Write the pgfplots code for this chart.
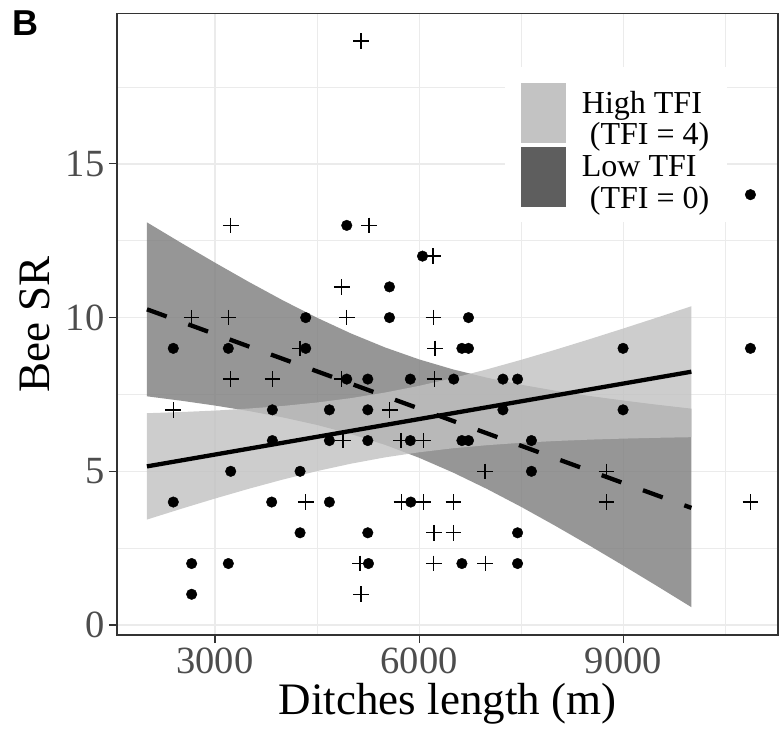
\documentclass[border=0pt]{standalone}
\usepackage{pgfplots}
\pgfplotsset{compat=1.18}
\usepackage{pgfplotstable}
\usepgfplotslibrary{fillbetween}
\usepackage{fontspec}
\setmainfont{Liberation Serif}
\newfontfamily\labfont{Liberation Sans}
\definecolor{gridc}{RGB}{235,235,235}
\definecolor{framec}{RGB}{51,51,51}
\definecolor{ticklab}{RGB}{77,77,77}
\definecolor{bandDark}{RGB}{124,124,124}
\definecolor{bandLight}{RGB}{193,193,193}
\definecolor{keyLight}{RGB}{195,195,195}
\definecolor{keyDark}{RGB}{94,94,94}

\pgfplotstableread{
x hlo hhi llo lhi
2000 3.430 6.890 7.440 13.100
2500 3.778 6.928 7.297 12.435
3000 4.114 6.976 7.139 11.787
3500 4.434 7.042 6.960 11.158
4000 4.734 7.126 6.752 10.558
4500 5.008 7.238 6.507 9.995
5000 5.249 7.381 6.212 9.483
5500 5.454 7.562 5.859 9.029
6000 5.620 7.780 5.440 8.640
6500 5.751 8.034 4.958 8.314
7000 5.851 8.319 4.422 8.043
7500 5.928 8.627 3.842 7.816
8000 5.986 8.954 3.227 7.623
8500 6.030 9.295 2.589 7.453
9000 6.064 9.646 1.932 7.304
9500 6.090 10.005 1.262 7.166
10000 6.110 10.370 0.581 7.039
}\bands

\pgfplotstableread{
x y
10868 14
4936 13
6049 12
5564 11
4333 10
5564 10
6725 10
2387 9
3196 9
4333 9
6628 9
6725 9
8996 9
10868 9
4936 8
5245 8
5870 8
6508 8
7231 8
7446 8
3843 7
4681 7
5245 7
7231 7
8996 7
3843 6
4681 6
5245 6
5870 6
6628 6
6725 6
7650 6
3231 5
4250 5
7650 5
2387 4
3833 4
4681 4
5877 4
4250 3
5245 3
7446 3
2657 2
3196 2
5255 2
6628 2
7446 2
2657 1
}\dots

\pgfplotstableread{
x y
5143 19
3231 13
5260 13
6201 12
4863 11
2657 10
3196 10
4936 10
6208 10
4250 9
6230 9
3231 8
3843 8
4860 8
6225 8
2387 7
5568 7
4880 6
5735 6
6064 6
6968 5
8750 5
4333 4
5740 4
6064 4
6505 4
8750 4
10868 4
6220 3
6505 3
5132 2
6215 2
6971 2
5143 1
}\pluses

\begin{document}
\begin{tikzpicture}
\begin{axis}[
  scale only axis,
  width=661bp, height=621.7bp,
  xmin=1560, xmax=11273,
  ymin=-0.325, ymax=19.9,
  scaled x ticks=false, scaled y ticks=false,
  xtick={3000,6000,9000},
  xticklabels={3000,6000,9000},
  ytick={0,5,10,15},
  yticklabels={0,5,10,15},
  minor xtick={4500,7500,10500},
  minor ytick={2.5,7.5,12.5,17.5},
  grid=both,
  major grid style={gridc, line width=1.2bp},
  minor grid style={gridc, line width=0.6bp},
  tick align=outside,
  xtick pos=left, ytick pos=left,
  major tick length=8bp,
  minor tick length=0bp,
  tick style={framec, line width=1.1bp},
  axis line style={framec, line width=1.4bp},
  ticklabel style={font=\fontsize{38.5bp}{46bp}\selectfont, text=ticklab},
  xticklabel style={anchor=base, yshift=-30bp},
  yticklabel style={anchor=east, xshift=-1bp},
  xlabel={Ditches length (m)},
  ylabel={Bee SR},
  label style={font=\fontsize{45bp}{50bp}\selectfont, text=black},
  xlabel style={at={(axis description cs:0.5,0)}, anchor=base, yshift=-79bp},
  ylabel style={at={([xshift=-67bp]axis description cs:0,0.5)}, anchor=base},
  legend style={at={(0.587,0.938)}, anchor=north west, yshift=-15bp, draw=none, fill=white,
    inner xsep=16bp, inner ysep=16bp, row sep=4bp, column sep=15bp,
    font=\fontsize{32bp}{31bp}\selectfont,
    cells={anchor=west}},
  legend image code/.code={\fill[#1] (0bp,-29.65bp) rectangle (43.3bp,29.65bp);},
]
\coordinate (O) at (rel axis cs:0,0);
\addlegendimage{keyLight}
\addlegendentry{{\raisebox{4.5bp}{\begin{tabular}{@{}l@{}}High TFI\\\hspace{0.25em}(TFI = 4)\end{tabular}}}}
\addlegendimage{keyDark}
\addlegendentry{{\raisebox{4.5bp}{\begin{tabular}{@{}l@{}}Low TFI\\\hspace{0.25em}(TFI = 0)\end{tabular}}}}

\addplot[name path=lhi, draw=none, forget plot] table[x=x,y=lhi]{\bands};
\addplot[name path=llo, draw=none, forget plot] table[x=x,y=llo]{\bands};
\addplot[bandDark, fill opacity=0.8, draw=none, forget plot] fill between[of=lhi and llo];
\addplot[name path=hhi, draw=none, forget plot] table[x=x,y=hhi]{\bands};
\addplot[name path=hlo, draw=none, forget plot] table[x=x,y=hlo]{\bands};
\addplot[bandLight, fill opacity=0.8, draw=none, forget plot] fill between[of=hhi and hlo];

\addplot[only marks, mark=*, mark size=5.3bp, black, forget plot] table[x=x,y=y]{\dots};
\addplot[only marks, mark=+, mark size=7.8bp, black, line width=1.4bp, forget plot] table[x=x,y=y]{\pluses};

\addplot[black, line width=4.3bp, dash pattern=on 21bp off 23bp, forget plot] coordinates {(2000,10.27) (10000,3.81)};
\addplot[black, line width=4.3bp, forget plot] coordinates {(2000,5.16) (10000,8.24)};
\end{axis}
\node[anchor=base west, inner sep=0pt, font=\labfont\bfseries\fontsize{36bp}{36bp}\selectfont]
  at ([shift={(-105bp,599bp)}]O) {B};
\pgfresetboundingbox
\path ([shift={(-117bp,-98bp)}]O) rectangle ([shift={(665bp,635bp)}]O);
\end{tikzpicture}
\end{document}
